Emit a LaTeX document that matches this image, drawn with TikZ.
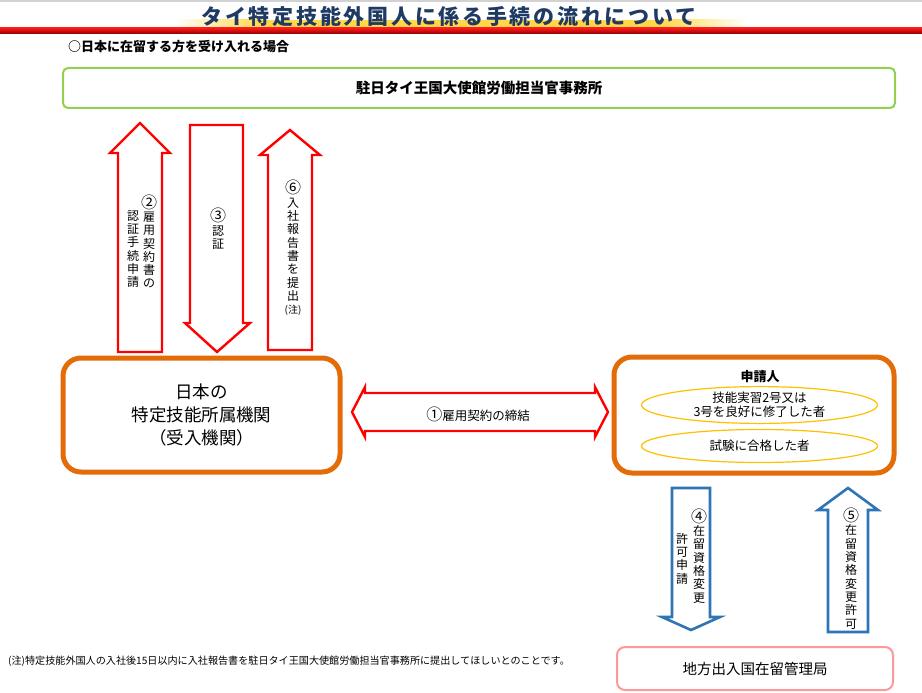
\documentclass[tikz,border=0pt]{standalone}
\usepackage{fontspec}
\setmainfont{Noto Sans CJK JP}
\usetikzlibrary{shapes.geometric}
\definecolor{arrred}{HTML}{FF0000}
\definecolor{boxorange}{HTML}{E36C09}
\definecolor{boxgreen}{HTML}{92D050}
\definecolor{ellyellow}{HTML}{FFC000}
\definecolor{arrblue}{HTML}{2E75B6}
\definecolor{boxpink}{HTML}{FF9999}
\definecolor{titlenavy}{HTML}{1F3B63}
\definecolor{bandyellow}{HTML}{FFD84A}
\newcommand\circnum[1]{{\fontsize{16}{13.3}\selectfont #1}}
\begin{document}
\begin{tikzpicture}[x=1pt,y=-1pt,
  vtext/.style={font=\fontsize{12}{13.3}\selectfont, align=center, inner sep=0pt},
  redarrow/.style={draw=arrred, line width=2.4pt, fill=white, line join=miter},
  bluearrow/.style={draw=arrblue, line width=2.6pt, fill=white, line join=miter},
  orangebox/.style={draw=boxorange, line width=5pt, rounded corners=18pt, fill=white, align=center},
  ellbox/.style={ellipse, draw=ellyellow, line width=1.2pt, minimum width=236pt, align=center, inner sep=0pt, font=\fontsize{12.5}{14.5}\selectfont}
]
\useasboundingbox (0,0) rectangle (922,693);
\fill[white] (0,0) rectangle (922,693);
% header
\draw[gray!35, line width=2pt] (0,1) -- (922,1);
\shade[left color=white, right color=bandyellow] (172,20) rectangle (262,28);
\fill[bandyellow] (262,20) rectangle (660,28);
\shade[left color=bandyellow, right color=white] (660,20) rectangle (748,28);
\shade[top color=red!90!white, bottom color=red!55!black] (0,28) rectangle (922,34);
\node[font=\bfseries\fontsize{21}{21}\selectfont\addfontfeature{LetterSpace=13}, text=titlenavy, inner sep=0pt] (title) at (449,17) {タイ特定技能外国人に係る手続の流れについて};
\node[anchor=west, font=\bfseries\fontsize{13}{13}\selectfont, inner sep=0pt] (sub) at (68,47) {○日本に在留する方を受け入れる場合};

% embassy box
\node[draw=boxgreen, line width=2pt, rounded corners=5pt, minimum width=832pt, minimum height=40pt, font=\bfseries\fontsize{14.5}{14.5}\selectfont] (emb) at (479,88) {駐日タイ王国大使館労働担当官事務所};

% red vertical arrows
\draw[redarrow] (118,352) -- (118,153) -- (110,153) -- (140,123) -- (170,153) -- (162,153) -- (162,352) -- cycle;
\draw[redarrow] (190,125) -- (243,125) -- (243,323) -- (250,323) -- (217,352) -- (185,323) -- (190,323) -- cycle;
\draw[redarrow] (268,350) -- (268,155) -- (260,155) -- (290,130) -- (320,155) -- (312,155) -- (312,350) -- cycle;
\node[vtext] (t2a) at (149,241.5) {\circnum{②}\\雇\\用\\契\\約\\書\\の};
\node[vtext] (t2b) at (133,249) {認\\証\\手\\続\\申\\請};
\node[vtext] (t3) at (218,229) {\circnum{③}\\認\\証};
\node[vtext] (t6) at (293,248) {\circnum{⑥}\\入\\社\\報\\告\\書\\を\\提\\出\\{\fontsize{10}{10}\selectfont (注)}};

% organisation boxes
\node[orangebox, minimum width=277pt, minimum height=114pt, font=\fontsize{17.5}{23}\selectfont] (org) at (201.5,415) {日本の\\特定技能所属機関\\（受入機関）};
\node[orangebox, minimum width=280pt, minimum height=116pt] (app) at (754,415) {};
\node[font=\bfseries\fontsize{13}{13}\selectfont, inner sep=0pt] (applab) at (760,377) {申請人};
\node[ellbox, minimum height=35pt] (e1) at (759.5,405) {技能実習2号又は\\3号を良好に修了した者};
\node[ellbox, minimum height=33pt] (e2) at (759.5,446) {試験に合格した者};

% double arrow
\draw[redarrow] (352,412) -- (365,387) -- (365,393) -- (595,393) -- (595,387) -- (608,412) -- (595,437) -- (595,431) -- (365,431) -- (365,437) -- cycle;
\node[font=\fontsize{12.5}{12.5}\selectfont, inner sep=0pt] (lab1) at (478,414) {{\fontsize{16}{12.5}\selectfont ①}雇用契約の締結};

% blue arrows
\draw[bluearrow] (672,488) -- (710,488) -- (710,617) -- (720,617) -- (691,630) -- (662,617) -- (672,617) -- cycle;
\draw[bluearrow] (828,632) -- (828,510) -- (818,510) -- (848,488) -- (878,510) -- (868,510) -- (868,632) -- cycle;
\node[vtext] (t4a) at (699,556) {\circnum{④}\\在\\留\\資\\格\\変\\更};
\node[vtext] (t4b) at (682,558.5) {許\\可\\申\\請};
\node[vtext] (t5) at (851,568.5) {\circnum{⑤}\\在\\留\\資\\格\\変\\更\\許\\可};

% immigration bureau
\node[draw=boxpink, line width=2pt, rounded corners=8pt, minimum width=276pt, minimum height=43pt, font=\fontsize{14.5}{14.5}\selectfont] (imm) at (755,668.5) {地方出入国在留管理局};

% note
\node[anchor=west, font=\fontsize{10.1}{10.1}\selectfont, inner sep=0pt] (note) at (8,661) {(注)特定技能外国人の入社後15日以内に入社報告書を駐日タイ王国大使館労働担当官事務所に提出してほしいとのことです。};
\end{tikzpicture}
\end{document}
